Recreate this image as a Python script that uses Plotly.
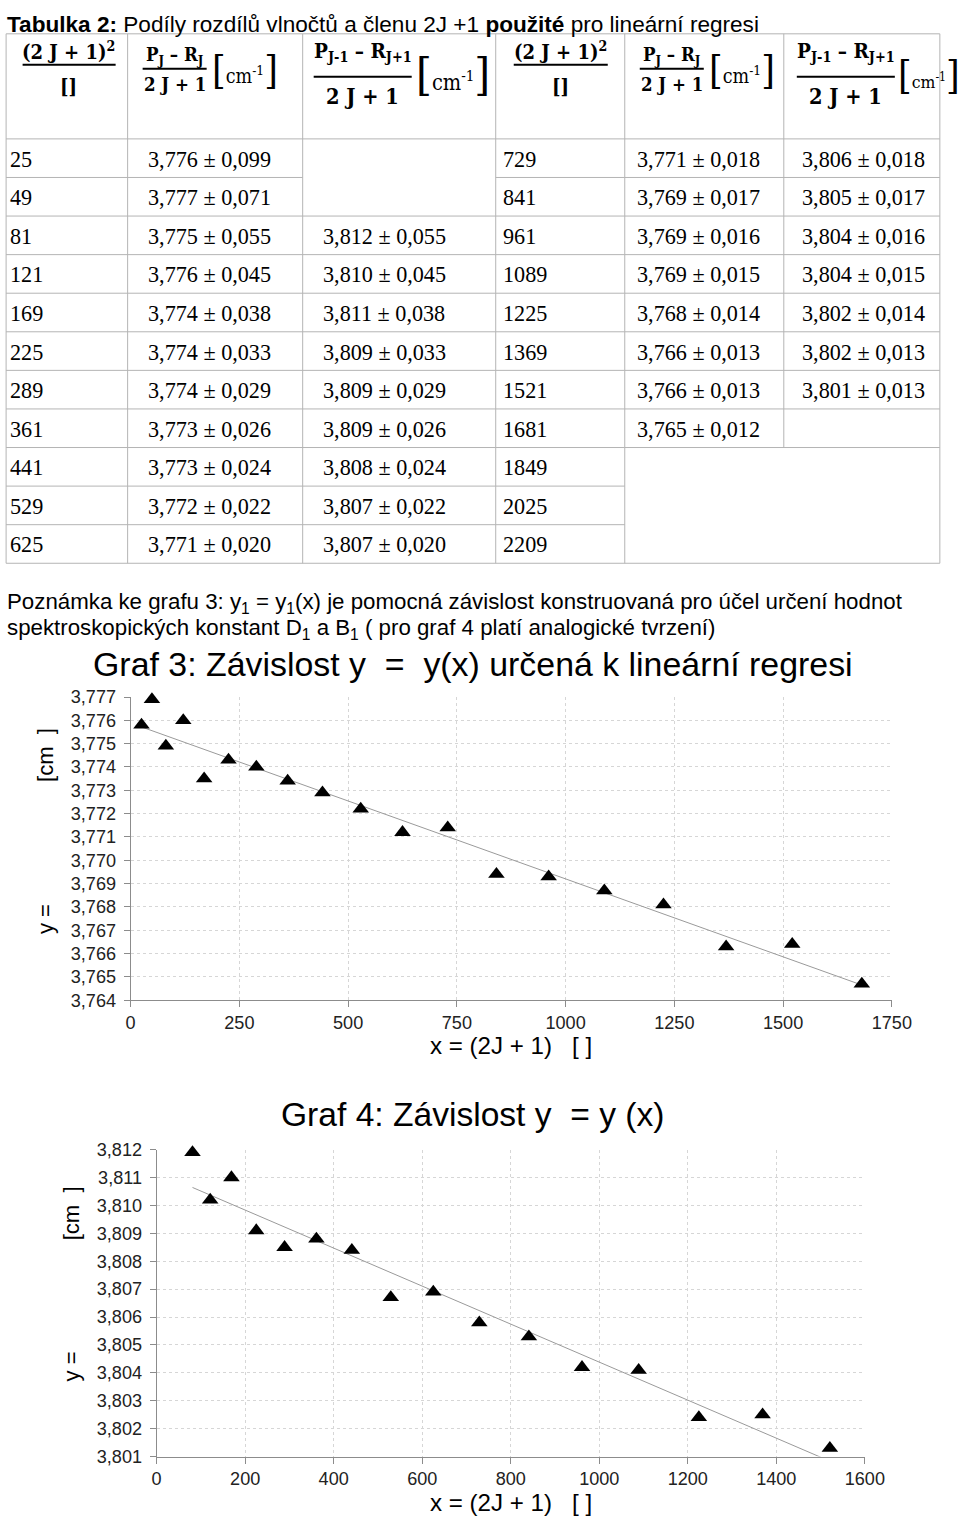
import numpy as np
import plotly.graph_objects as go

W, H = 960, 1518

# ---------------- table data ----------------
left_x = [25, 49, 81, 121, 169, 225, 289, 361, 441, 529, 625]
left_p = [3.776, 3.777, 3.775, 3.776, 3.774, 3.774, 3.774, 3.773, 3.773, 3.772, 3.771]
left_p_err = [0.099, 0.071, 0.055, 0.045, 0.038, 0.033, 0.029, 0.026, 0.024, 0.022, 0.020]
left_q = [None, None, 3.812, 3.810, 3.811, 3.809, 3.809, 3.809, 3.808, 3.807, 3.807]
left_q_err = [None, None, 0.055, 0.045, 0.038, 0.033, 0.029, 0.026, 0.024, 0.022, 0.020]

right_x = [729, 841, 961, 1089, 1225, 1369, 1521, 1681, 1849, 2025, 2209]
right_p = [3.771, 3.769, 3.769, 3.769, 3.768, 3.766, 3.766, 3.765, None, None, None]
right_p_err = [0.018, 0.017, 0.016, 0.015, 0.014, 0.013, 0.013, 0.012, None, None, None]
right_q = [3.806, 3.805, 3.804, 3.804, 3.802, 3.802, 3.801, None, None, None, None]
right_q_err = [0.018, 0.017, 0.016, 0.015, 0.014, 0.013, 0.013, None, None, None, None]

# ---------------- graph data ----------------
g3_x = [25, 49, 81, 121, 169, 225, 289, 361, 441, 529, 625, 729, 841, 961, 1089, 1225, 1369, 1521, 1681]
g3_y = [3.7758, 3.7769, 3.7749, 3.7760, 3.7735, 3.7743, 3.7740, 3.7734, 3.7729, 3.7722,
        3.7712, 3.7714, 3.7694, 3.7693, 3.7687, 3.7681, 3.7663, 3.7664, 3.7647]
g4_x = [81, 121, 169, 225, 289, 361, 441, 529, 625, 729, 841, 961, 1089, 1225, 1369, 1521]
g4_y = [3.8119, 3.8102, 3.8110, 3.8091, 3.8085, 3.8088, 3.8084, 3.8067, 3.8069, 3.8058,
        3.8053, 3.8042, 3.8041, 3.8024, 3.8025, 3.8013]

g3_xticks = [0, 250, 500, 750, 1000, 1250, 1500, 1750]
g4_xticks = [0, 200, 400, 600, 800, 1000, 1200, 1400, 1600]

# page placement of the figure as photographed (measured): X = OX + SX * x
SX, OX = 0.9737, 4.4
SY, OY = 0.9861, 11.2
FS = 1.0 / SX  # font compensation


def px(X):
    return ((X - OX) / SX) / W


def py(Y):
    return 1 - ((Y - OY) / SY) / H


def f(s):
    return round(s * FS, 2)


def fmt(v, e):
    return f"{v:.3f} ± {e:.3f}".replace(".", ",")


SANS = "Liberation Sans, Arial"
SERIF = "Liberation Serif, Times New Roman"
HEAD = "DejaVu Serif Condensed, DejaVu Serif, Liberation Serif"
GRID = "#b4b4b4"

fig = go.Figure()

c3 = np.polyfit(g3_x, g3_y, 1)
c4 = np.polyfit(g4_x, g4_y, 1)
l3x = [min(g3_x), max(g3_x)]
l4x = [min(g4_x), max(g4_x)]

MS = f(14)
fig.add_trace(go.Scatter(x=l3x, y=list(np.polyval(c3, l3x)), mode="lines",
                         line=dict(color="#9a9a9a", width=1), xaxis="x", yaxis="y",
                         showlegend=False, hoverinfo="skip"))
fig.add_trace(go.Scatter(x=g3_x, y=g3_y, mode="markers", cliponaxis=False,
                         marker=dict(symbol="triangle-up", size=MS, color="black"),
                         xaxis="x", yaxis="y", showlegend=False))
fig.add_trace(go.Scatter(x=l4x, y=list(np.polyval(c4, l4x)), mode="lines",
                         line=dict(color="#9a9a9a", width=1), xaxis="x2", yaxis="y2",
                         showlegend=False, hoverinfo="skip"))
fig.add_trace(go.Scatter(x=g4_x, y=g4_y, mode="markers", cliponaxis=False,
                         marker=dict(symbol="triangle-up", size=MS, color="black"),
                         xaxis="x2", yaxis="y2", showlegend=False))

axis_common = dict(showline=True, linecolor="#8c8c8c", linewidth=1, ticks="outside",
                   ticklen=6, tickcolor="#8c8c8c", showgrid=True, gridcolor="#d6d6d6",
                   griddash="dot", gridwidth=1, zeroline=False,
                   tickfont=dict(family="Liberation Sans, Arial", size=f(17.6), color="#222"))

fig.update_layout(
    width=W, height=H, margin=dict(l=0, r=0, t=0, b=0),
    paper_bgcolor="white", plot_bgcolor="white", separators=", ",
    xaxis=dict(domain=[px(130), px(891)], anchor="y", range=[0, 1750],
               tickvals=g3_xticks, **axis_common),
    yaxis=dict(domain=[py(1000.7), py(697.7)], anchor="x", range=[3.764, 3.777],
               dtick=0.001, tick0=3.764, tickformat=".3f", ticklabelstandoff=4, **axis_common),
    xaxis2=dict(domain=[px(156), px(864)], anchor="y2", range=[0, 1600],
                tickvals=g4_xticks, **axis_common),
    yaxis2=dict(domain=[py(1456.7), py(1150)], anchor="x2", range=[3.801, 3.812],
                dtick=0.001, tick0=3.801, tickformat=".3f", ticklabelstandoff=4, **axis_common),
)

ann = []
shapes = []


def text(x, y, s, size, family=SANS, xanchor="left", yanchor="middle", angle=0, color="black"):
    ann.append(dict(x=px(x), y=py(y), xref="paper", yref="paper", text=s, showarrow=False,
                    xanchor=xanchor, yanchor=yanchor, textangle=angle,
                    font=dict(family=family, size=f(size), color=color)))


def hline(x0, x1, y, color=GRID, width=1):
    shapes.append(dict(type="line", xref="paper", yref="paper", x0=px(x0), x1=px(x1),
                       y0=py(y), y1=py(y), line=dict(color=color, width=width)))


def vline(x, y0, y1, color=GRID, width=1):
    shapes.append(dict(type="line", xref="paper", yref="paper", x0=px(x), x1=px(x),
                       y0=py(y0), y1=py(y1), line=dict(color=color, width=width)))


# ---------------- page title (kept fully inside the figure) ----------------
text(4, OY + 0.3, "<b>Tabulka 2:</b> Podíly rozdílů vlnočtů a členu 2J +1 <b>použité</b> pro lineární regresi",
     22, yanchor="top")

# ---------------- table grid ----------------
cols = [5.5, 127, 302, 495, 624, 783, 939]
top, hb, rh = 35, 140, 38.55
nrows = 11
bottom = hb + nrows * rh
hline(cols[0], cols[-1], top)
hline(cols[0], cols[-1], hb)
hline(cols[0], cols[-1], bottom)
for k in range(1, nrows):
    yy = hb + k * rh
    hline(cols[0], cols[2] if k == 1 else cols[3], yy)
    hline(cols[3], cols[4], yy)
    if k <= 8:
        hline(cols[4], cols[6], yy)
for i, c in enumerate(cols):
    if i == 5:
        vline(c, top, hb + 8 * rh)
    else:
        vline(c, top, bottom)

# ---------------- table header ----------------
FR = "#000"


def frac(cx, y_num, y_line, y_den, x0, x1, num, den, size, dsize=None):
    text(cx, y_num, num, size, family=HEAD, xanchor="center")
    hline(x0, x1, y_line, color=FR, width=2)
    text(cx, y_den, den, dsize or size, family=HEAD, xanchor="center")


def cm(x, y, size, bsize):
    text(x, y, f"<span style='font-size:{f(bsize)}px'>[</span>cm<sup>-1</sup>"
               f"<span style='font-size:{f(bsize)}px'>]</span>", size, family=HEAD)


for cx, x0, x1 in ((68, 22, 115), (560, 513, 607)):
    frac(cx, 52, 66, 88, x0, x1, "<b>(2 J + 1)</b><sup><b>2</b></sup>", "<b>[]</b>", 19.5)
for cx, x0, x1, cmx in ((174, 142, 206, 209), (671, 639, 703, 706)):
    frac(cx, 57, 70, 86, x0, x1, "<b>P<sub>J</sub> – R<sub>J</sub></b>", "<b>2 J + 1</b>", 18)
    cm(cmx, 71, 19, 38)
for cx, x0, x1, cmx, cs, bs in ((362, 313, 411, 413, 21, 44), (845, 796, 894, 895, 17, 38)):
    frac(cx, 53, 78, 98, x0, x1, "<b>P<sub>J-1</sub> – R<sub>J+1</sub></b>", "<b>2 J + 1</b>", 20, 21)
    cm(cmx, 76, cs, bs)

# ---------------- table body ----------------
TS = 21.6
for i in range(nrows):
    yc = hb + (i + 0.5) * rh + 1
    text(7, yc, str(left_x[i]), TS, family=SERIF)
    if left_p[i] is not None:
        text(145, yc, fmt(left_p[i], left_p_err[i]), TS, family=SERIF)
    if left_q[i] is not None:
        text(320, yc, fmt(left_q[i], left_q_err[i]), TS, family=SERIF)
    text(500, yc, str(right_x[i]), TS, family=SERIF)
    if right_p[i] is not None:
        text(634, yc, fmt(right_p[i], right_p_err[i]), TS, family=SERIF)
    if right_q[i] is not None:
        text(799, yc, fmt(right_q[i], right_q_err[i]), TS, family=SERIF)

# ---------------- note ----------------
text(4, 604, "Poznámka ke grafu 3: y<sub>1</sub> = y<sub>1</sub>(x) je pomocná závislost konstruovaná "
             "pro účel určení hodnot", 21.7)
text(4, 630, "spektroskopických konstant D<sub>1</sub> a B<sub>1</sub> ( pro graf 4 platí analogické tvrzení)",
     21.7)

# ---------------- chart titles / axis titles ----------------
text(472, 665, "Graf 3: Závislost y  =  y(x) určená k lineární regresi", 33, xanchor="center")
text(45, 920, "y =", 21.5, xanchor="center", angle=-90)
text(45, 756, "[cm  ]", 21.5, xanchor="center", angle=-90)
text(510, 1046, "x = (2J + 1)   [ ]", 23.5, xanchor="center")

text(472, 1115, "Graf 4: Závislost y  = y (x)", 32.7, xanchor="center")
text(71, 1367, "y =", 21.5, xanchor="center", angle=-90)
text(71, 1214, "[cm  ]", 21.5, xanchor="center", angle=-90)
text(510, 1503, "x = (2J + 1)   [ ]", 23.5, xanchor="center")

fig.update_layout(annotations=ann, shapes=shapes)
fig.write_html("out.html")
